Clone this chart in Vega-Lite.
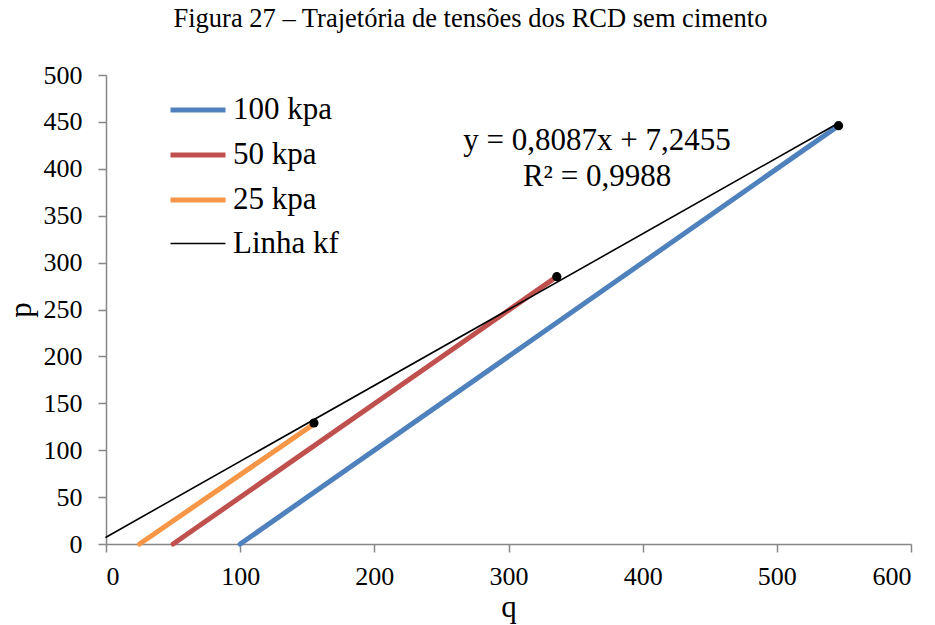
{
  "$schema": "https://vega.github.io/schema/vega-lite/v6.json",
  "autosize": {"type": "none"},
  "width": 805,
  "height": 469,
  "padding": {"left": 106, "top": 75, "right": 24, "bottom": 81},
  "background": "white",
  "title": {
    "text": "Figura 27 – Trajetória de tensões dos RCD sem cimento",
    "font": "Liberation Serif",
    "fontSize": 26.5,
    "fontWeight": "normal",
    "color": "#000000",
    "anchor": "middle",
    "frame": "group",
    "dx": -38,
    "offset": 30
  },
  "config": {
    "font": "Liberation Serif",
    "view": {"stroke": null},
    "axis": {
      "labelFont": "Liberation Serif",
      "labelFontSize": 26,
      "labelColor": "#000000",
      "titleFont": "Liberation Serif",
      "titleFontSize": 31,
      "titleFontWeight": "normal",
      "titleColor": "#000000",
      "domainColor": "#868686",
      "tickColor": "#868686",
      "domainWidth": 1.5,
      "tickWidth": 1.5,
      "tickSize": 8,
      "grid": false
    },
    "axisQuantitative": {"labelFont": "Liberation Serif"}
  },
  "datasets": {
    "lines": [
      {"series": "100 kpa", "q": 100, "p": 0},
      {"series": "100 kpa", "q": 545, "p": 445},
      {"series": "50 kpa", "q": 50, "p": 0},
      {"series": "50 kpa", "q": 336, "p": 285},
      {"series": "25 kpa", "q": 25, "p": 0},
      {"series": "25 kpa", "q": 154, "p": 127},
      {"series": "Linha kf", "q": 0, "p": 7.2455},
      {"series": "Linha kf", "q": 545, "p": 448}
    ],
    "points": [
      {"q": 155, "p": 129},
      {"q": 336, "p": 285},
      {"q": 546, "p": 446}
    ],
    "notes": [
      {"line": "y = 0,8087x + 7,2455"},
      {"line": "R² = 0,9988"}
    ]
  },
  "layer": [
    {
      "data": {"name": "lines"},
      "mark": {"type": "line", "strokeCap": "round"},
      "encoding": {
        "x": {
          "field": "q", "type": "quantitative",
          "scale": {"domain": [0, 600], "nice": false},
          "axis": {"values": [0, 100, 200, 300, 400, 500, 600], "title": "q", "labelFont": "Liberation Serif", "labelFontSize": 26, "labelPadding": 11, "titlePadding": 3}
        },
        "y": {
          "field": "p", "type": "quantitative",
          "scale": {"domain": [0, 500], "nice": false},
          "axis": {"values": [0, 50, 100, 150, 200, 250, 300, 350, 400, 450, 500], "title": "p", "labelFont": "Liberation Serif", "labelFontSize": 26, "labelPadding": 16, "titlePadding": 6}
        },
        "color": {
          "field": "series", "type": "nominal",
          "scale": {"domain": ["100 kpa", "50 kpa", "25 kpa", "Linha kf"], "range": ["#4F81BD", "#C0504D", "#F79646", "#000000"]},
          "legend": {
            "title": null,
            "orient": "none",
            "legendX": 62,
            "legendY": 5,
            "symbolType": "stroke",
            "symbolSize": 3025,
            "labelFont": "Liberation Serif",
            "labelFontSize": 31,
            "labelColor": "#000000",
            "labelOffset": 5,
            "rowPadding": -6.7
          }
        },
        "strokeWidth": {
          "field": "series", "type": "nominal",
          "scale": {"type": "ordinal", "domain": ["100 kpa", "50 kpa", "25 kpa", "Linha kf"], "range": [5, 5, 5, 1.6]},
          "legend": {
            "title": null,
            "orient": "none",
            "legendX": 62,
            "legendY": 5,
            "symbolType": "stroke",
            "symbolSize": 3025,
            "labelFont": "Liberation Serif",
            "labelFontSize": 31,
            "labelColor": "#000000",
            "labelOffset": 5,
            "rowPadding": -6.7
          }
        },
        "detail": {"field": "series"},
        "order": {"field": "q"}
      }
    },
    {
      "data": {"name": "points"},
      "mark": {"type": "point", "filled": true, "color": "#000000", "size": 85, "opacity": 1},
      "encoding": {
        "x": {"field": "q", "type": "quantitative"},
        "y": {"field": "p", "type": "quantitative"}
      }
    },
    {
      "data": {"name": "notes"},
      "transform": [{"filter": "datum.line == 'y = 0,8087x + 7,2455'"}],
      "mark": {"type": "text", "font": "Liberation Serif", "fontSize": 31, "align": "center", "baseline": "alphabetic", "color": "#000000"},
      "encoding": {
        "text": {"field": "line"},
        "x": {"datum": 366, "type": "quantitative"},
        "y": {"datum": 420, "type": "quantitative"}
      }
    },
    {
      "data": {"name": "notes"},
      "transform": [{"filter": "datum.line == 'R² = 0,9988'"}],
      "mark": {"type": "text", "font": "Liberation Serif", "fontSize": 31, "align": "center", "baseline": "alphabetic", "color": "#000000"},
      "encoding": {
        "text": {"field": "line"},
        "x": {"datum": 366, "type": "quantitative"},
        "y": {"datum": 382, "type": "quantitative"}
      }
    }
  ]
}
